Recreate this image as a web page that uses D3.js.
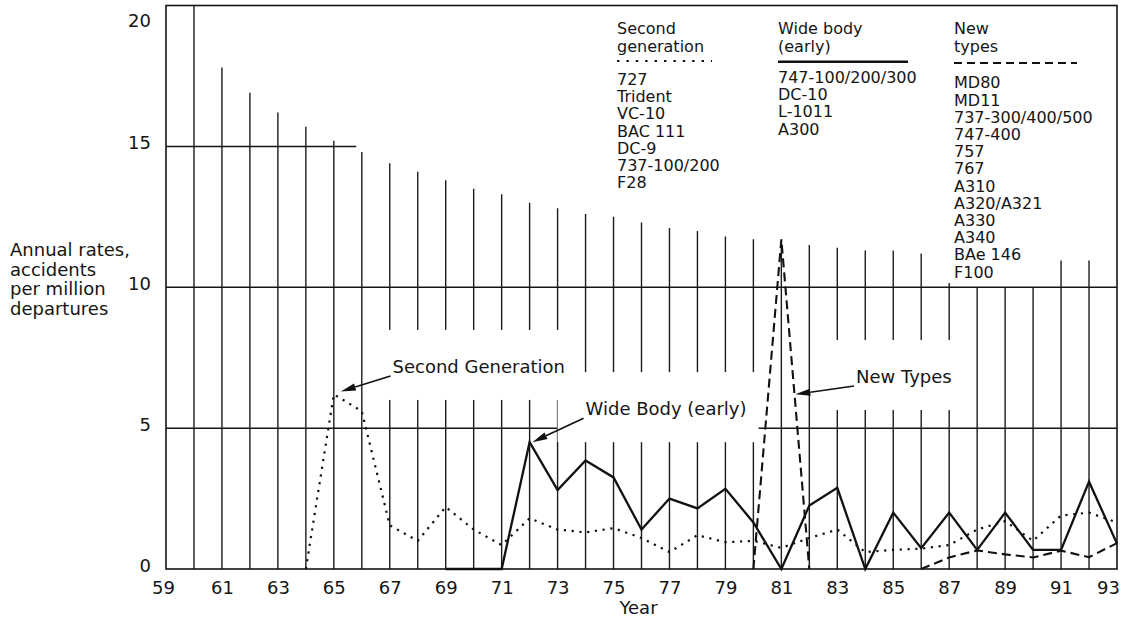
<!DOCTYPE html>
<html>
<head>
<meta charset="utf-8">
<style>
  body { margin: 0; background: #fff; }
  svg { font-family: "DejaVu Sans", sans-serif; fill: #151515; }
  .vgrid line { stroke: #1c1c1c; stroke-width: 1.4; }
  .hgrid line { stroke: #151515; stroke-width: 1.5; }
  .frame { fill: none; stroke: #151515; stroke-width: 1.6; }
  .axis path { display: none; }
  .axis text { font-size: 18px; fill: #151515; font-family: "DejaVu Sans", sans-serif; }
  .series { fill: none; stroke: #111; }
  .annot text { font-size: 18px; }
  .legend text { font-size: 16px; }
</style>
</head>
<body>
<script src="https://d3js.org/d3.v7.min.js"></script>
<script>

// ---- data ----
var xTickYears = d3.range(59, 94, 2);
var yTickValues = [0, 5, 10, 15, 20];

// top of each year's vertical rule (the rules shorten towards the right)
var ruleYears = d3.range(60, 93);
var ruleTops = [20, 17.8, 16.9, 16.2, 15.7, 15.2, 14.8, 14.4, 14.1, 13.8, 13.5,
                13.3, 13.0, 12.8, 12.6, 12.5, 12.3, 12.1, 12.0, 11.8, 11.7,
                11.6, 11.5, 11.4, 11.3, 11.3, 11.2, 10.15, 10.0, 10.0, 10.0,
                10.95, 10.95];

var secondGenYears = d3.range(64, 94);
var secondGenRates = [0, 6.2, 5.6, 1.55, 1.0, 2.2, 1.4, 0.85, 1.8, 1.4, 1.3,
                      1.45, 1.1, 0.6, 1.2, 0.95, 1.0, 0.75, 1.1, 1.4, 0.6,
                      0.68, 0.72, 0.85, 1.4, 1.7, 1.0, 1.9, 2.0, 1.65];

var wideBodyYears = d3.range(69, 94);
var wideBodyRates = [0, 0, 0, 4.5, 2.8, 3.85, 3.25, 1.4, 2.5, 2.15, 2.85,
                     1.65, 0, 2.25, 2.88, 0, 2.0, 0.74, 2.0, 0.68, 2.0,
                     0.68, 0.68, 3.1, 0.9];

var newTypesYears = d3.range(80, 94);
var newTypesRates = [0, 11.7, 0, null, null, null, 0, 0.41, 0.66, 0.52,
                     0.41, 0.65, 0.42, 0.92];

var annotLabels = ["Second Generation", "Wide Body (early)", "New Types"];
var annotLabelAt = [[67.1, 6.96], [74.0, 5.46], [83.67, 6.6]];
var annotTips = [[65.25, 6.3], [72.1, 4.5], [81.5, 6.2]];

var legendHeads = [["Second", "generation"], ["Wide body", "(early)"], ["New", "types"]];
var legendTypes = [
  ["727", "Trident", "VC-10", "BAC 111", "DC-9", "737-100/200", "F28"],
  ["747-100/200/300", "DC-10", "L-1011", "A300"],
  ["MD80", "MD11", "737-300/400/500", "747-400", "757", "767", "A310",
   "A320/A321", "A330", "A340", "BAe 146", "F100"]
];

var yTitle = ["Annual rates,", "accidents", "per million", "departures"];

// ---- layout ----
var width = 1125, height = 622;

var x = d3.scaleLinear().domain([59, 93]).range([166, 1117]);
var y = d3.scaleLinear().domain([0, 20]).range([569, 5.5]);

var svg = d3.select("body").append("svg")
    .attr("width", width)
    .attr("height", height);

// vertical rules for every year
svg.append("g").attr("class", "vgrid")
  .selectAll("line")
  .data(ruleYears)
  .enter().append("line")
    .attr("x1", function (d) { return x(d); })
    .attr("x2", function (d) { return x(d); })
    .attr("y1", y(0))
    .attr("y2", function (d, i) { return y(ruleTops[i]); });

// horizontal rules at 5, 10 and a short one at 15
var hRules = [[15, 65.8], [10, 93], [5, 93]];
svg.append("g").attr("class", "hgrid")
  .selectAll("line")
  .data(hRules)
  .enter().append("line")
    .attr("x1", x(59))
    .attr("x2", function (d) { return x(d[1]); })
    .attr("y1", function (d) { return y(d[0]); })
    .attr("y2", function (d) { return y(d[0]); });

// white boxes under the annotation labels (they cut the rules)
var boxLayer = svg.append("g");

svg.append("rect")
    .attr("class", "frame")
    .attr("x", x(59))
    .attr("y", y(20))
    .attr("width", x(93) - x(59))
    .attr("height", y(0) - y(20));

// axes
var xAxis = svg.append("g")
    .attr("class", "axis")
    .attr("transform", "translate(0," + y(0) + ")")
    .call(d3.axisBottom(x).tickValues(xTickYears).tickSize(0).tickFormat(d3.format("d")));
xAxis.selectAll("text")
    .attr("y", 25)
    .attr("dy", null)
    .attr("dx", function (d) { return d === 93 ? -9 : (d === 59 ? -3 : 0); });

var yAxis = svg.append("g")
    .attr("class", "axis")
    .attr("transform", "translate(" + x(59) + ",0)")
    .call(d3.axisLeft(y).tickValues(yTickValues).tickSize(0));
yAxis.selectAll("text")
    .attr("x", -15)
    .attr("dy", null)
    .attr("y", function (d) { return Math.max(y(d) + 2, 26) - y(d); });

svg.append("text")
    .attr("x", (x(59) + x(93)) / 2 - 3)
    .attr("y", 614)
    .attr("text-anchor", "middle")
    .style("font-size", "18px")
    .text("Year");

svg.append("g")
  .selectAll("text")
  .data(yTitle)
  .enter().append("text")
    .attr("x", 10)
    .attr("y", function (d, i) { return 256 + i * 19.5; })
    .style("font-size", "18px")
    .text(function (d) { return d; });

// series
function pts(years, vals) {
  return years.map(function (d, i) { return [d, vals[i]]; });
}
var line = d3.line()
    .defined(function (d) { return d[1] !== null; })
    .x(function (d) { return x(d[0]); })
    .y(function (d) { return y(d[1]); });

svg.append("path")
    .attr("class", "series")
    .attr("d", line(pts(secondGenYears, secondGenRates)))
    .attr("stroke-width", 2.2)
    .attr("stroke-dasharray", "2.2,5.6");

svg.append("path")
    .attr("class", "series")
    .attr("d", line(pts(wideBodyYears, wideBodyRates)))
    .attr("stroke-width", 2.3)
    .attr("stroke-linejoin", "miter");

svg.append("path")
    .attr("class", "series")
    .attr("d", line(pts(newTypesYears, newTypesRates)))
    .attr("stroke-width", 2.1)
    .attr("stroke-dasharray", "9,5");

// annotations with arrows
var annot = svg.append("g").attr("class", "annot");
annotLabels.forEach(function (label, i) {
  var lx = x(annotLabelAt[i][0]), ly = y(annotLabelAt[i][1]);
  var t = annot.append("text").attr("x", lx).attr("y", ly).text(label);
  var bb = t.node().getBBox();
  boxLayer.append("rect")
      .attr("x", bb.x - 28)
      .attr("y", ly - 43)
      .attr("width", bb.width + 40)
      .attr("height", 70)
      .attr("fill", "#fff");

  var tx = x(annotTips[i][0]), ty = y(annotTips[i][1]);
  var sx = lx - 2, sy = ly + 3;
  var a = Math.atan2(ty - sy, tx - sx);
  var len = 15, half = 3.6;
  var bx = tx - len * Math.cos(a), by = ty - len * Math.sin(a);
  annot.append("line")
      .attr("x1", sx).attr("y1", sy)
      .attr("x2", bx).attr("y2", by)
      .attr("stroke", "#111").attr("stroke-width", 1.6);
  annot.append("path")
      .attr("d", "M" + tx + "," + ty +
                 "L" + (bx + half * Math.sin(a)) + "," + (by - half * Math.cos(a)) +
                 "L" + (bx - half * Math.sin(a)) + "," + (by + half * Math.cos(a)) + "Z")
      .attr("fill", "#111");
});

// legend block at the top
var legendX = [617, 778, 954];
var legendLen = [95, 130, 123];
var legendLineY = [61, 61.7, 63];
var legendItemTop = [85, 83, 88.3];
var legendDash = ["2.4,7", null, "8,5"];

var legend = svg.append("g").attr("class", "legend");
legendHeads.forEach(function (head, c) {
  var g = legend.append("g");
  g.selectAll("text.head")
    .data(head)
    .enter().append("text")
      .attr("class", "head")
      .attr("x", legendX[c])
      .attr("y", function (d, i) { return 34.3 + i * 17.2; })
      .text(function (d) { return d; });

  g.append("line")
      .attr("x1", legendX[c]).attr("x2", legendX[c] + legendLen[c])
      .attr("y1", legendLineY[c]).attr("y2", legendLineY[c])
      .attr("stroke", "#111")
      .attr("stroke-width", c === 1 ? 2.6 : 2.2)
      .attr("stroke-dasharray", legendDash[c]);

  g.selectAll("text.item")
    .data(legendTypes[c])
    .enter().append("text")
      .attr("class", "item")
      .attr("x", legendX[c])
      .attr("y", function (d, i) { return legendItemTop[c] + i * 17.2; })
      .text(function (d) { return d; });
});

</script>
</body>
</html>
